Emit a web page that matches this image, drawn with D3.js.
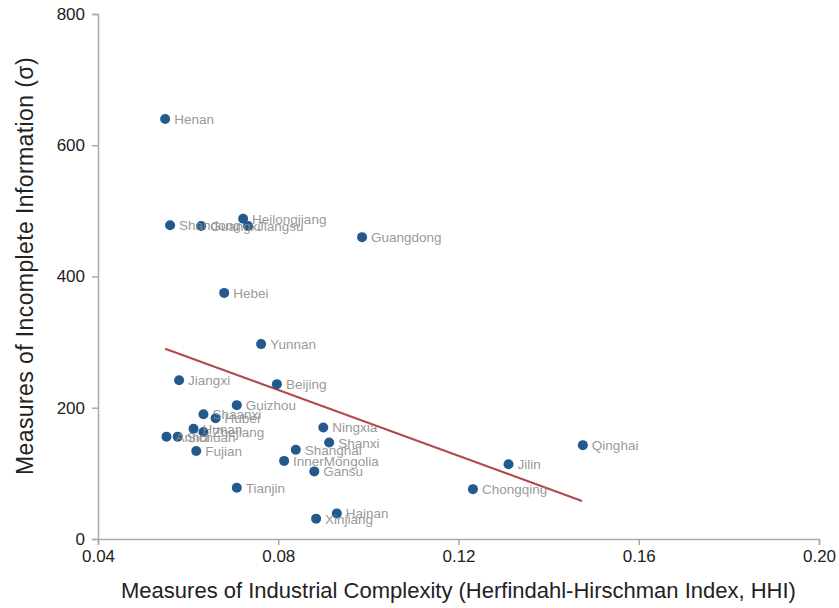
<!DOCTYPE html>
<html>
<head>
<meta charset="utf-8">
<script src="https://cdn.jsdelivr.net/npm/d3@7"></script>
<style>
  body { margin: 0; background: #fff; }
  svg { font-family: "Liberation Sans", Arial, sans-serif; }
</style>
</head>
<body>
<script>
var provinces = ["Henan", "Shandong", "Guangxi", "Heilongjiang", "Jiangsu", "Guangdong", "Hebei", "Yunnan",
  "Jiangxi", "Beijing", "Guizhou", "Shaanxi", "Hubei", "Hunan", "Zhejiang", "Anhui", "Sichuan", "Fujian",
  "Ningxia", "Shanxi", "Shanghai", "InnerMongolia", "Gansu", "Tianjin", "Hainan", "Xinjiang", "Jilin",
  "Qinghai", "Chongqing"];
var hhi = [0.0549, 0.0560, 0.0629, 0.0722, 0.0733, 0.0986, 0.0680, 0.0762,
  0.0580, 0.0797, 0.0708, 0.0634, 0.0661, 0.0612, 0.0634, 0.0552, 0.0577, 0.0618,
  0.0900, 0.0913, 0.0839, 0.0813, 0.0880, 0.0708, 0.0930, 0.0884, 0.1311,
  0.1476, 0.1232];
var sigma = [640, 478, 477, 488, 477, 460, 375, 297,
  242, 236, 204, 190, 184, 168, 163, 156, 156, 134,
  170, 147, 136, 119, 103, 78, 39, 31, 114,
  143, 76];
var trendX = [0.0549, 0.1474];
var trendY = [290, 58];
var xTicks = [0.04, 0.08, 0.12, 0.16, 0.20];
var yTicks = [0, 200, 400, 600, 800];

var width = 839, height = 608;
var margin = {left: 98, right: 20, top: 14, bottom: 69};

var svg = d3.select("body").append("svg")
  .attr("width", width)
  .attr("height", height);

var x = d3.scaleLinear().domain([0.04, 0.20]).range([margin.left, width - margin.right]);
var y = d3.scaleLinear().domain([0, 800]).range([height - margin.bottom, margin.top]);

var xAxis = svg.append("g")
  .attr("transform", "translate(0," + (height - margin.bottom) + ")")
  .call(d3.axisBottom(x).tickValues(xTicks).tickFormat(d3.format(".2f")).tickSizeOuter(0).tickSize(6).tickPadding(5));

var yAxis = svg.append("g")
  .attr("transform", "translate(" + margin.left + ",0)")
  .call(d3.axisLeft(y).tickValues(yTicks).tickSizeOuter(0).tickSize(6).tickPadding(7));

[xAxis, yAxis].forEach(function(g) {
  g.selectAll("path, line").attr("stroke", "#aaaaaa").attr("stroke-width", 1.5);
  g.selectAll("text").attr("fill", "#222").style("font-size", "17px")
    .style("font-family", "'Liberation Sans', Arial, sans-serif");
});

svg.append("text")
  .attr("x", (margin.left + width - margin.right) / 2)
  .attr("y", 598)
  .attr("text-anchor", "middle")
  .style("font-size", "22px")
  .attr("fill", "#222")
  .text("Measures of Industrial Complexity (Herfindahl-Hirschman Index, HHI)");

svg.append("text")
  .attr("transform", "translate(33," + 266 + ") rotate(-90)")
  .attr("text-anchor", "middle")
  .style("font-size", "23px")
  .style("letter-spacing", "0.4px")
  .attr("fill", "#222")
  .text("Measures of Incomplete Information (\u03c3)");

svg.append("line")
  .attr("x1", x(trendX[0]))
  .attr("y1", y(trendY[0]))
  .attr("x2", x(trendX[1]))
  .attr("y2", y(trendY[1]))
  .attr("stroke", "#b3484a")
  .attr("stroke-width", 2);

var pts = provinces.map(function(p, i) { return {name: p, x: hhi[i], y: sigma[i]}; });

svg.selectAll("circle.pt")
  .data(pts)
  .enter()
  .append("circle")
  .attr("class", "pt")
  .attr("cx", function(d) { return x(d.x); })
  .attr("cy", function(d) { return y(d.y); })
  .attr("r", 5)
  .attr("fill", "#235a8e");

svg.selectAll("text.lbl")
  .data(pts)
  .enter()
  .append("text")
  .attr("class", "lbl")
  .attr("x", function(d) { return x(d.x) + 9; })
  .attr("y", function(d) { return y(d.y) + 5; })
  .style("font-size", "13.5px")
  .attr("fill", "#8c8c8c")
  .attr("fill-opacity", 0.9)
  .text(function(d) { return d.name; });
</script>
</body>
</html>
